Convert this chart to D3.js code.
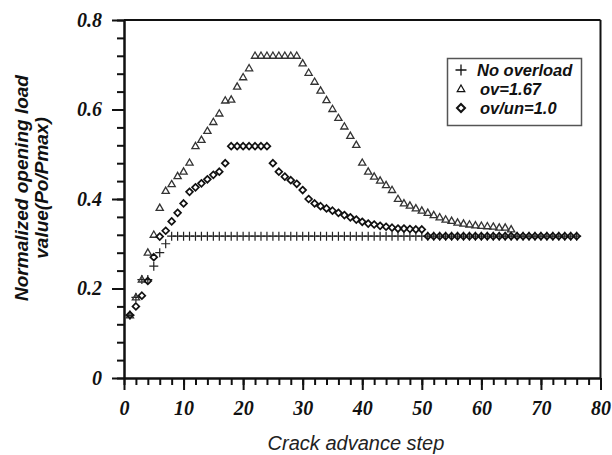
<!DOCTYPE html>
<html>
<head>
  <script src="https://d3js.org/d3.v7.min.js"></script>
  <style>
    body { margin: 0; background: #fff; }
    .axis path, .axis line { stroke: #111; stroke-width: 2px; }
    .axis text { font-family: "Liberation Serif", "Times New Roman", serif; font-weight: bold; font-style: italic; font-size: 20px; fill: #111; }
    .legend text { font-family: "Liberation Sans", Arial, sans-serif; font-weight: bold; font-style: italic; font-size: 16.5px; fill: #111; }
  </style>
</head>
<body>
  <svg width="612" height="455"></svg>
  <script>
    // crack advance steps 1..76
    var steps = [1,2,3,4,5,6,7,8,9,10,11,12,13,14,15,16,17,18,19,20,21,22,23,24,25,26,27,28,29,30,
      31,32,33,34,35,36,37,38,39,40,41,42,43,44,45,46,47,48,49,50,51,52,53,54,55,56,57,58,59,60,
      61,62,63,64,65,66,67,68,69,70,71,72,73,74,75,76];

    var noOverload = [0.14,0.18,0.22,0.22,0.25,0.28,0.30,0.317,0.317,0.317,0.317,0.317,0.317,0.317,0.317,0.317,
      0.317,0.317,0.317,0.317,0.317,0.317,0.317,0.317,0.317,0.317,0.317,0.317,0.317,0.317,
      0.317,0.317,0.317,0.317,0.317,0.317,0.317,0.317,0.317,0.317,0.317,0.317,0.317,0.317,0.317,
      0.317,0.317,0.317,0.317,0.317,0.317,0.317,0.317,0.317,0.317,0.317,0.317,0.317,0.317,0.317,
      0.317,0.317,0.317,0.317,0.317,0.317,0.317,0.317,0.317,0.317,0.317,0.317,0.317,0.317,0.317,0.317];

    // ov=1.67, steps 1..65
    var ov167 = [0.14,0.18,0.22,0.28,0.32,0.38,0.418,0.433,0.451,0.461,0.481,0.518,0.532,0.552,0.572,
      0.591,0.62,0.622,0.651,0.672,0.692,0.72,0.72,0.72,0.72,0.72,0.72,0.72,0.72,0.703,
      0.682,0.662,0.642,0.621,0.601,0.581,0.562,0.541,0.521,0.481,0.461,0.45,0.441,0.431,0.42,
      0.40,0.39,0.385,0.379,0.374,0.369,0.364,0.359,0.354,0.351,0.347,0.345,0.343,0.341,0.34,
      0.339,0.338,0.336,0.336,0.332];

    // ov/un=1.0, steps 1..76
    var ovun10 = [0.141,0.16,0.184,0.217,0.27,0.316,0.329,0.35,0.369,0.39,0.416,0.426,0.435,0.444,0.454,
      0.461,0.48,0.518,0.518,0.518,0.518,0.518,0.518,0.518,0.48,0.461,0.45,0.442,0.434,0.42,
      0.40,0.39,0.384,0.379,0.374,0.369,0.364,0.359,0.354,0.349,0.345,0.343,0.34,0.338,0.336,
      0.334,0.334,0.333,0.332,0.332,0.317,0.317,0.317,0.317,0.317,0.317,0.317,0.317,0.317,0.317,
      0.317,0.317,0.317,0.317,0.317,0.317,0.317,0.317,0.317,0.317,0.317,0.317,0.317,0.317,0.317,0.317];

    var xTicks = [0,10,20,30,40,50,60,70,80];
    var yTicks = [0,0.2,0.4,0.6,0.8];
    var yTickLabels = ["0","0.2","0.4","0.6","0.8"];
    var legendLabels = ["No overload","ov=1.67","ov/un=1.0"];

    var svg = d3.select("svg"),
      margin = {top: 20, right: 11.5, bottom: 77, left: 124},
      width = +svg.attr("width") - margin.left - margin.right,
      height = +svg.attr("height") - margin.top - margin.bottom;

    var x = d3.scaleLinear().domain([0, 80]).range([0, width]);
    var y = d3.scaleLinear().domain([0, 0.8]).range([height, 0]);

    var g = svg.append("g")
      .attr("transform", "translate(" + margin.left + "," + margin.top + ")");

    // minor ticks
    g.append("g")
      .attr("class", "axis")
      .attr("transform", "translate(0," + height + ")")
      .call(d3.axisBottom(x).tickValues(d3.range(0, 81, 2)).tickSize(7).tickSizeOuter(0).tickFormat(""));
    g.append("g")
      .attr("class", "axis")
      .call(d3.axisLeft(y).tickValues(d3.range(0, 0.801, 0.04)).tickSize(7).tickSizeOuter(0).tickFormat(""));

    // major ticks + labels
    g.append("g")
      .attr("class", "axis")
      .attr("transform", "translate(0," + height + ")")
      .call(d3.axisBottom(x).tickValues(xTicks).tickSize(12).tickSizeOuter(0).tickPadding(11));
    g.append("g")
      .attr("class", "axis")
      .call(d3.axisLeft(y).tickValues(yTicks).tickSize(12).tickSizeOuter(0).tickPadding(10)
        .tickFormat(function(d, i) { return yTickLabels[i]; }));

    // top and right frame
    g.append("line").attr("x1", x(0)).attr("x2", x(80)).attr("y1", y(0.8)).attr("y2", y(0.8))
      .attr("stroke", "#111").attr("stroke-width", 2);
    g.append("line").attr("x1", x(80)).attr("x2", x(80)).attr("y1", y(0)).attr("y2", y(0.8))
      .attr("stroke", "#111").attr("stroke-width", 2);

    // marker shapes
    function plus(r) { return "M" + (-r) + ",0H" + r + "M0," + (-r) + "V" + r; }
    function tri(r) { return "M0," + (-r) + "L" + (r * 0.95) + "," + (r * 0.65) + "L" + (-r * 0.95) + "," + (r * 0.65) + "Z"; }
    function diamond(r) { return "M0," + (-r) + "L" + r + ",0L0," + r + "L" + (-r) + ",0Z"; }

    function drawSeries(vals, shape, stroke, sw) {
      g.append("g").selectAll("path")
        .data(vals)
        .enter().append("path")
        .attr("transform", function(d, i) { return "translate(" + x(steps[i]) + "," + y(d) + ")"; })
        .attr("d", shape)
        .attr("fill", "none")
        .attr("stroke", stroke)
        .attr("stroke-width", sw);
    }

    drawSeries(noOverload, plus(4.5), "#222", 1.2);
    drawSeries(ov167, tri(3.8), "#333", 1.3);
    drawSeries(ovun10, diamond(3.4), "#111", 1.7);

    // legend
    var legend = svg.append("g").attr("class", "legend");
    legend.append("rect")
      .attr("x", 447.5).attr("y", 58.5).attr("width", 134).attr("height", 67)
      .attr("fill", "#fff").attr("stroke", "#555").attr("stroke-width", 1.5);
    var legShapes = [plus(5.5), tri(4), diamond(4)];
    var legWidths = [1.3, 1.2, 2];
    legendLabels.forEach(function(t, i) {
      var cy = 70 + i * 19;
      legend.append("path")
        .attr("transform", "translate(461," + cy + ")")
        .attr("d", legShapes[i])
        .attr("fill", "none").attr("stroke", "#111").attr("stroke-width", legWidths[i]);
      legend.append("text")
        .attr("x", i === 0 ? 477 : 480).attr("y", cy + 6)
        .text(t);
    });

    // axis titles
    svg.append("text")
      .attr("x", 356).attr("y", 450)
      .attr("text-anchor", "middle")
      .style("font-family", "'Liberation Sans', Arial, sans-serif")
      .style("font-style", "italic")
      .style("font-size", "20px")
      .attr("fill", "#222")
      .text("Crack advance step");

    var yTitle = svg.append("text")
      .attr("transform", "translate(0,188) rotate(-90)")
      .attr("text-anchor", "middle")
      .style("font-family", "'Liberation Sans', Arial, sans-serif")
      .style("font-weight", "bold")
      .style("font-style", "italic")
      .style("font-size", "19px")
      .attr("fill", "#111");
    yTitle.append("tspan").attr("x", 0).attr("y", 28).text("Normalized opening load");
    yTitle.append("tspan").attr("x", 0).attr("y", 48).text("value(Po/Pmax)");
  </script>
</body>
</html>
